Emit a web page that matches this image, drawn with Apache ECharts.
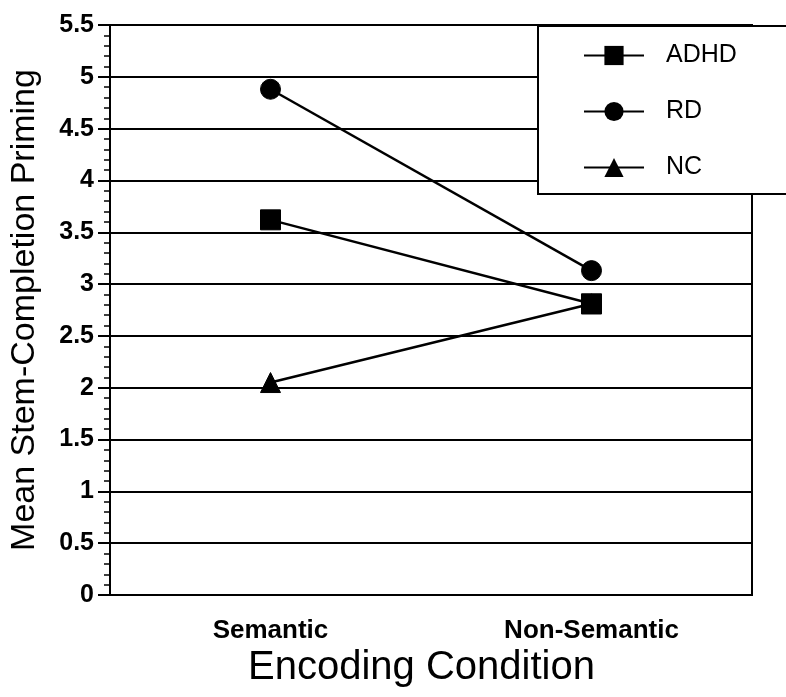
<!DOCTYPE html>
<html>
<head>
<meta charset="utf-8">
<script src="https://cdn.jsdelivr.net/npm/echarts@6/dist/echarts.min.js"></script>
<style>
html,body{margin:0;padding:0;background:#fff;}
#chart{width:786px;height:697px;}
</style>
</head>
<body>
<div id="chart"></div>
<script>
const categories = ['Semantic', 'Non-Semantic'];
const adhd = [3.62, 2.81];
const rd = [4.88, 3.13];
const nc = [2.05, 2.81];
const yTicks = [0, 0.5, 1, 1.5, 2, 2.5, 3, 3.5, 4, 4.5, 5, 5.5];

const FONT = '"Liberation Sans", Arial, Helvetica, sans-serif';
const chart = echarts.init(document.getElementById('chart'));

function mkSeries(name, data, symbol) {
  return {
    name: name,
    type: 'line',
    data: data,
    symbol: symbol,
    symbolSize: 20,
    showSymbol: true,
    lineStyle: { color: '#000', width: 2.5 },
    itemStyle: { color: '#000', borderColor: '#000' },
    animation: false
  };
}

chart.setOption({
  backgroundColor: '#fff',
  animation: false,
  grid: {
    left: 107, right: 34, top: 25, bottom: 102,
    show: true, borderColor: '#000', borderWidth: 2,
    containLabel: false
  },
  legend: {
    data: ['ADHD', 'RD', 'NC'],
    orient: 'vertical',
    left: 538,
    top: 26,
    padding: [17, 300, 14, 45],
    itemWidth: 60,
    itemHeight: 24,
    itemGap: 31,
    backgroundColor: '#fff',
    borderColor: '#000',
    borderWidth: 2,
    borderRadius: 0,
    textStyle: {
      fontFamily: FONT, fontSize: 25, color: '#000',
      padding: [0, 0, 0, 17]
    },
    selectedMode: false
  },
  xAxis: {
    type: 'category',
    data: categories,
    boundaryGap: true,
    axisLine: { show: true, lineStyle: { color: '#000', width: 2 } },
    axisTick: { show: false },
    axisLabel: {
      margin: 23,
      fontFamily: FONT, fontSize: 26, fontWeight: 'bold', color: '#000'
    },
    name: 'Encoding Condition',
    nameLocation: 'middle',
    nameGap: 53,
    nameMoveOverlap: false,
    nameTextStyle: { fontFamily: FONT, fontSize: 40, color: '#000', padding: [0, 19, 0, 0] }
  },
  yAxis: {
    type: 'value',
    min: 0,
    max: 5.5,
    interval: 0.5,
    axisLine: { show: true, lineStyle: { color: '#000', width: 2 } },
    axisTick: { show: true, inside: false, length: 12, lineStyle: { color: '#000', width: 2 } },
    minorTick: { show: true, splitNumber: 5, length: 6, lineStyle: { color: '#000', width: 1.5 } },
    splitLine: { show: true, lineStyle: { color: '#000', width: 2 } },
    axisLabel: {
      margin: 16,
      fontFamily: FONT, fontSize: 25, fontWeight: 'bold', color: '#000',
      formatter: function (v) { return yTicks.indexOf(v) >= 0 ? String(v) : ''; }
    },
    name: 'Mean Stem-Completion Priming',
    nameLocation: 'middle',
    nameGap: 68,
    nameMoveOverlap: false,
    nameTextStyle: { fontFamily: FONT, fontSize: 34, color: '#000' }
  },
  series: [
    mkSeries('ADHD', adhd, 'rect'),
    mkSeries('RD', rd, 'circle'),
    mkSeries('NC', nc, 'triangle')
  ]
});
</script>
</body>
</html>
